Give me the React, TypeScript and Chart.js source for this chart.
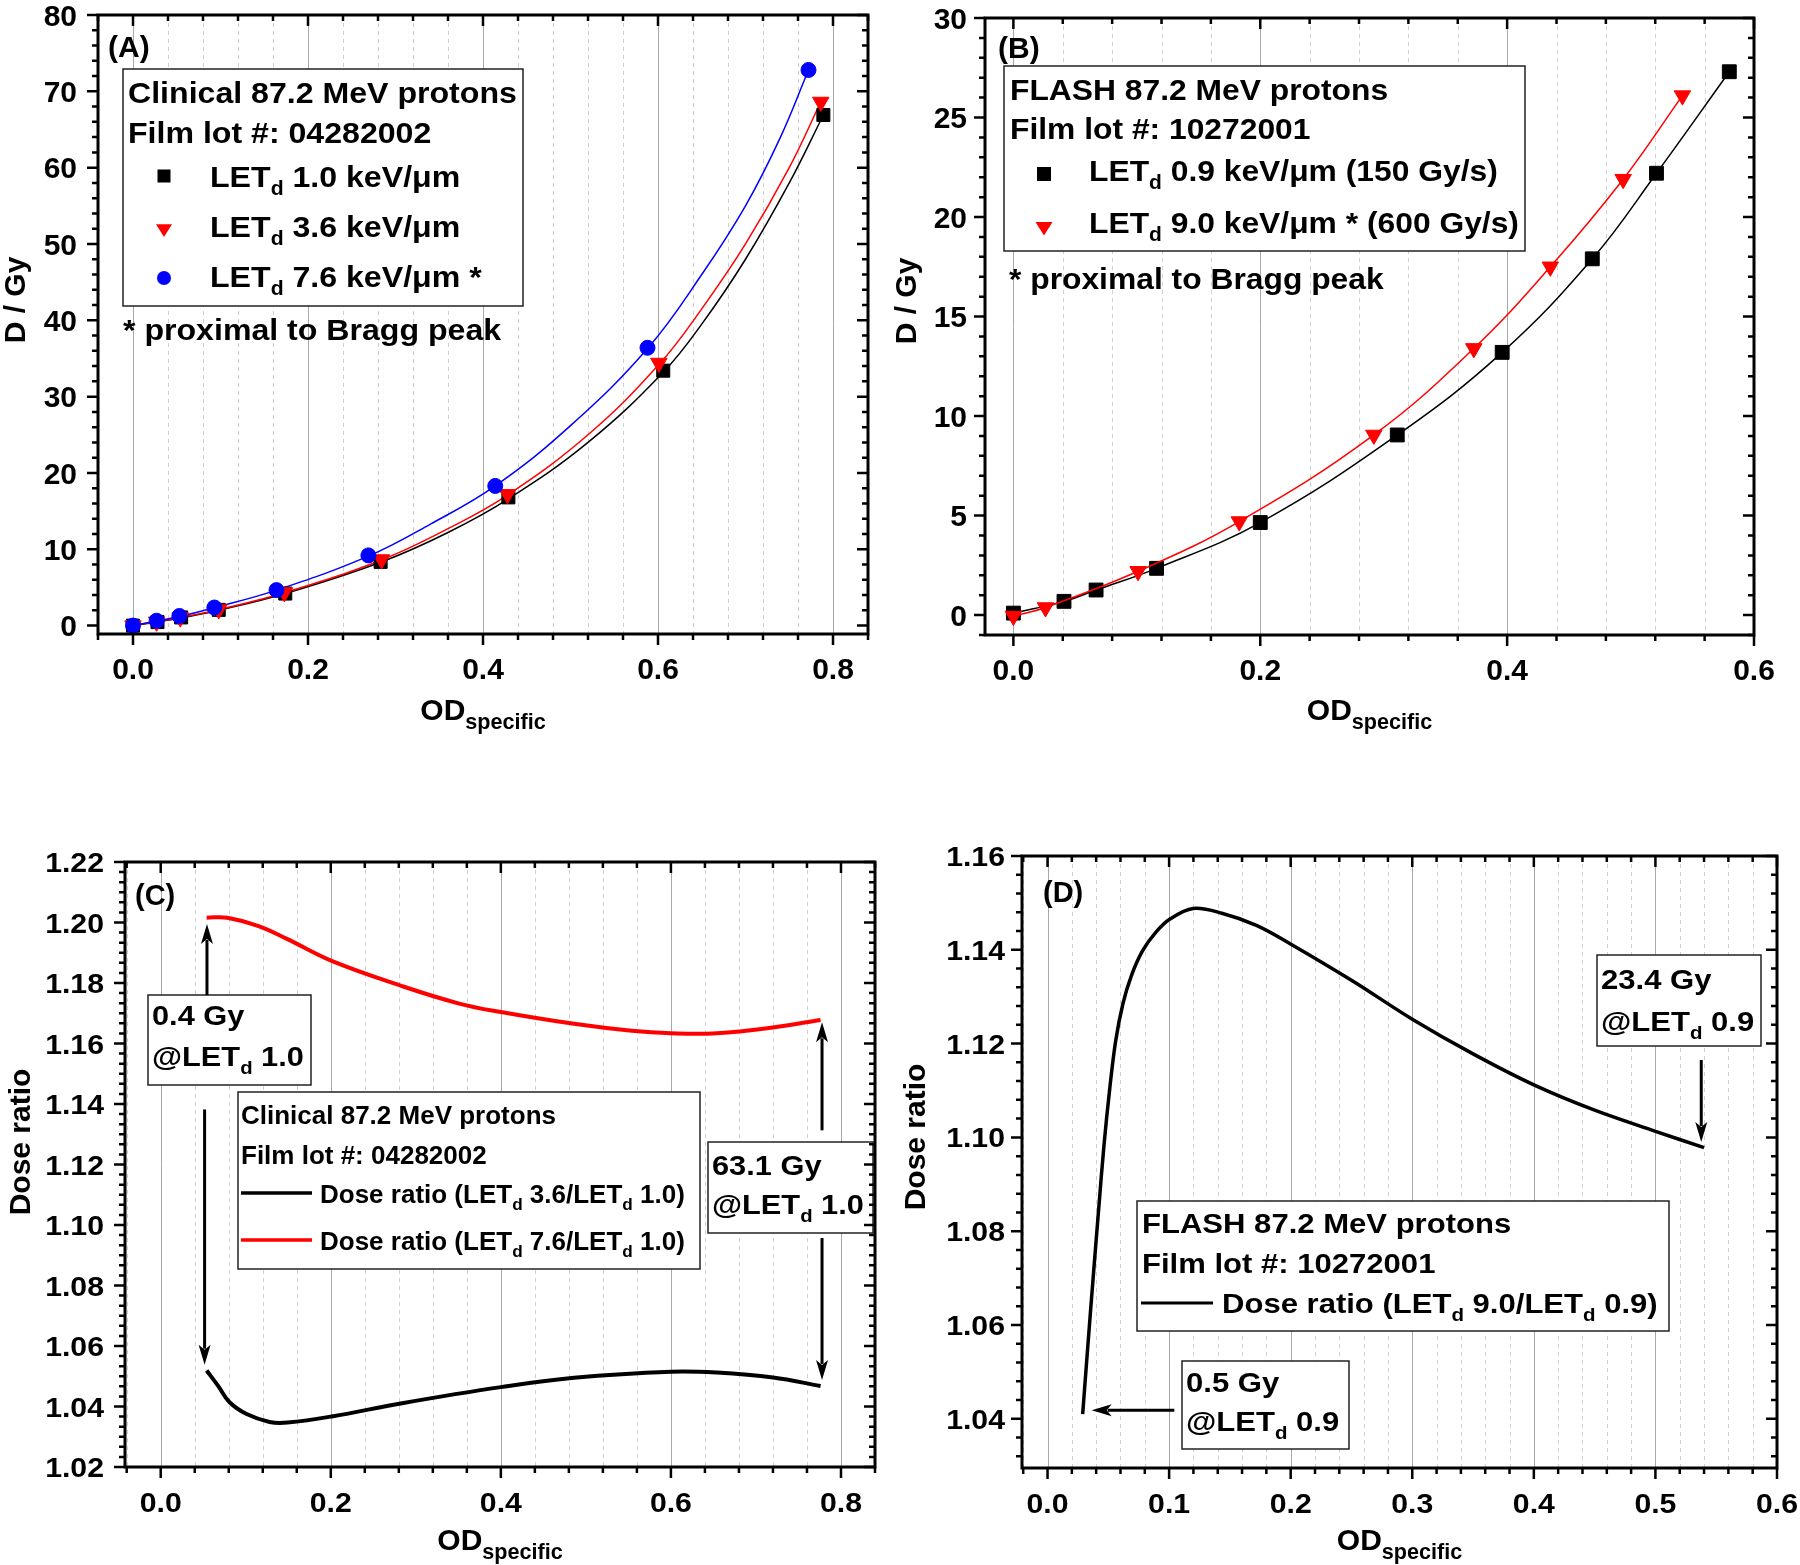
import React, { useEffect, useRef } from "react";
import { Chart, registerables } from "chart.js";
Chart.register(...registerables);

const W = 1800;
const H = 1565;
const FF = '"Liberation Sans", Arial, Helvetica, sans-serif';

// ---------------- DATA ----------------
// Panel A – Clinical 87.2 MeV protons (measured points)
const aX10 = [0, 0.028, 0.055, 0.098, 0.174, 0.283, 0.429, 0.606, 0.789];
const aY10 = [0, 0.46, 1.07, 2.06, 4.2, 8.35, 16.8, 33.4, 66.9];
const aX36 = [0, 0.027, 0.054, 0.098, 0.173, 0.284, 0.428, 0.601, 0.786];
const aY36 = [0, 0.5, 1.05, 2.1, 4.34, 8.65, 17.2, 34.4, 68.6];
const aX76 = [0, 0.027, 0.053, 0.093, 0.164, 0.269, 0.414, 0.588, 0.772];
const aY76 = [0, 0.64, 1.26, 2.37, 4.65, 9.2, 18.3, 36.4, 72.8];
// Panel A – fit curves
const aFitX10 = [0, 0.055, 0.098, 0.174, 0.283, 0.36, 0.429, 0.52, 0.606, 0.65, 0.7, 0.75, 0.789];
const aFitY10 = [0, 1.0, 2.0, 4.2, 8.3, 12.2, 16.6, 24.0, 33.2, 39.5, 48.0, 58.0, 66.9];
const aFitX36 = [0, 0.054, 0.098, 0.173, 0.284, 0.36, 0.428, 0.52, 0.601, 0.65, 0.7, 0.75, 0.786];
const aFitY36 = [0, 1.05, 2.1, 4.3, 8.6, 12.7, 17.1, 25.0, 34.2, 41.5, 50.0, 60.0, 68.6];
const aFitX76 = [0, 0.053, 0.093, 0.164, 0.269, 0.34, 0.414, 0.5, 0.588, 0.65, 0.7, 0.74, 0.772];
const aFitY76 = [0, 1.2, 2.35, 4.65, 9.1, 13.3, 18.3, 26.2, 36.3, 46.0, 55.0, 64.0, 72.8];
const aXTicks = [0, 0.2, 0.4, 0.6, 0.8];
const aYTicks = [0, 10, 20, 30, 40, 50, 60, 70, 80];

// Panel B – FLASH 87.2 MeV protons
const bX09 = [0, 0.041, 0.067, 0.116, 0.2, 0.311, 0.396, 0.469, 0.521, 0.58];
const bY09 = [0.1, 0.69, 1.26, 2.35, 4.65, 9.05, 13.2, 17.9, 22.2, 27.3];
const bX90 = [0, 0.026, 0.101, 0.183, 0.292, 0.373, 0.435, 0.494, 0.542];
const bY90 = [-0.05, 0.38, 2.2, 4.7, 9.05, 13.4, 17.5, 21.9, 26.1];
const bXTicks = [0, 0.2, 0.4, 0.6];
const bYTicks = [0, 5, 10, 15, 20, 25, 30];

// Panel C – dose ratios, clinical
const cXBlack = [0.054, 0.0675, 0.081, 0.101, 0.128, 0.149, 0.201, 0.284, 0.4, 0.486, 0.6, 0.654, 0.72, 0.776];
const cYBlack = [1.0519, 1.0468, 1.0414, 1.0375, 1.0349, 1.0347, 1.0367, 1.0411, 1.0464, 1.0495, 1.0515, 1.0512, 1.0496, 1.0468];
const cXRed = [0.054, 0.078, 0.115, 0.149, 0.201, 0.2835, 0.351, 0.4, 0.486, 0.554, 0.6, 0.654, 0.72, 0.776];
const cYRed = [1.2016, 1.2016, 1.1988, 1.1945, 1.1873, 1.179, 1.1732, 1.1704, 1.1665, 1.1642, 1.1634, 1.1634, 1.1653, 1.1678];
const cXTicks = [0, 0.2, 0.4, 0.6, 0.8];
const cYTicks = [1.02, 1.04, 1.06, 1.08, 1.1, 1.12, 1.14, 1.16, 1.18, 1.2, 1.22];

// Panel D – dose ratio, FLASH
const dX = [0.0289, 0.033, 0.0375, 0.042, 0.0465, 0.051, 0.056, 0.062, 0.069, 0.078, 0.089, 0.101, 0.1198, 0.1434, 0.1718, 0.2002, 0.25, 0.3, 0.35, 0.4, 0.45, 0.5, 0.54];
const dY = [1.041, 1.055, 1.07, 1.0845, 1.0985, 1.11, 1.1205, 1.1285, 1.1345, 1.1397, 1.1437, 1.1466, 1.1488, 1.1478, 1.1452, 1.1412, 1.1335, 1.1252, 1.1178, 1.1112, 1.1058, 1.1013, 1.0978];
const dXTicks = [0, 0.1, 0.2, 0.3, 0.4, 0.5, 0.6];
const dYTicks = [1.04, 1.06, 1.08, 1.1, 1.12, 1.14, 1.16];

const zip = (xs: number[], ys: number[]) => xs.map((x, i) => ({ x, y: ys[i] }));

// ---------------- TEXT HELPERS ----------------
type Run = { t: string; sub: boolean };
function runsOf(s: string): Run[] {
  const out: Run[] = [];
  const re = /_\{([^}]*)\}/g;
  let last = 0;
  let m: RegExpExecArray | null;
  while ((m = re.exec(s)) !== null) {
    if (m.index > last) out.push({ t: s.slice(last, m.index), sub: false });
    out.push({ t: m[1], sub: true });
    last = re.lastIndex;
  }
  if (last < s.length) out.push({ t: s.slice(last), sub: false });
  return out;
}
function drawRich(
  ctx: CanvasRenderingContext2D,
  s: string,
  x: number,
  y: number,
  size: number,
  sx = 1,
  align: "left" | "center" | "right" = "left",
  subRatio = 0.66,
  subOff = 0.28
) {
  const runs = runsOf(s);
  const widths = runs.map((r) => {
    ctx.font = `bold ${r.sub ? size * subRatio : size}px ${FF}`;
    return ctx.measureText(r.t).width;
  });
  const total = widths.reduce((a, b) => a + b, 0) * sx;
  let x0 = x;
  if (align === "center") x0 = x - total / 2;
  if (align === "right") x0 = x - total;
  ctx.save();
  ctx.textBaseline = "alphabetic";
  ctx.textAlign = "left";
  ctx.fillStyle = "#000";
  ctx.translate(x0, y);
  ctx.scale(sx, 1);
  let off = 0;
  runs.forEach((r, i) => {
    ctx.font = `bold ${r.sub ? size * subRatio : size}px ${FF}`;
    ctx.fillText(r.t, off, r.sub ? size * subOff : 0);
    off += widths[i];
  });
  ctx.restore();
}

// ---------------- PANEL CONFIG ----------------
type Txt = { s: string; x: number; y: number; size: number; sx?: number };
type Box = { x: number; y: number; w: number; h: number };
type Mark = { kind: "rect" | "tri" | "circle"; x: number; y: number; color: string; r: number };
type LegLine = { x1: number; x2: number; y: number; color: string; w: number };
type Arrow = { x1: number; y1: number; x2: number; y2: number };
type Panel = {
  area: { l: number; t: number; r: number; b: number };
  xMin: number; xMax: number; yMin: number; yMax: number;
  xTicks: number[]; yTicks: number[]; xMinorN: number; yMinorN: number; xDec: number; yDec: number;
  tickSize: number; tickSx: number; yGap: number;
  xTitleY: number; yTitle: { s: string; x: number; y: number };
  texts: Txt[]; boxes: Box[]; marks: Mark[]; legLines: LegLine[]; arrows: Arrow[];
  datasets: any[];
};

const lineDs = (xs: number[], ys: number[], color: string, w: number, order: number, tension: number) => ({
  data: zip(xs, ys),
  showLine: true,
  borderColor: color,
  borderWidth: w,
  pointRadius: 0,
  tension,
  fill: false,
  order,
});
const markDs = (xs: number[], ys: number[], color: string, style: string, r: number, order: number, rot = 0, line = true) => ({
  data: zip(xs, ys),
  showLine: line,
  borderColor: color,
  borderWidth: 1.5,
  pointStyle: style,
  pointRadius: r,
  pointRotation: rot,
  pointBackgroundColor: color,
  pointBorderColor: color,
  pointBorderWidth: 1,
  tension: 0.4,
  fill: false,
  order,
});

const panels: Panel[] = [
  {
    area: { l: 98, t: 15, r: 868, b: 634 },
    xMin: -0.04, xMax: 0.84, yMin: -1.1, yMax: 80,
    xTicks: aXTicks, yTicks: aYTicks, xMinorN: 5, yMinorN: 5, xDec: 1, yDec: 0,
    tickSize: 30, tickSx: 1, yGap: 21,
    xTitleY: 720, yTitle: { s: "D / Gy", x: 14, y: 300 },
    boxes: [{ x: 123, y: 69, w: 400, h: 237 }],
    texts: [
      { s: "(A)", x: 108, y: 57, size: 30 },
      { s: "Clinical 87.2 MeV protons", x: 128, y: 103, size: 30, sx: 1.07 },
      { s: "Film lot #: 04282002", x: 128, y: 143, size: 30, sx: 1.07 },
      { s: "LET_{d} 1.0 keV/μm", x: 210, y: 187, size: 30, sx: 1.07 },
      { s: "LET_{d} 3.6 keV/μm", x: 210, y: 237, size: 30, sx: 1.07 },
      { s: "LET_{d} 7.6 keV/μm *", x: 210, y: 287, size: 30, sx: 1.07 },
      { s: "* proximal to Bragg peak", x: 123, y: 340, size: 30, sx: 1.07 },
    ],
    marks: [
      { kind: "rect", x: 164, y: 176, color: "#000000", r: 6.5 },
      { kind: "tri", x: 164, y: 229, color: "#ff0000", r: 8 },
      { kind: "circle", x: 164, y: 278, color: "#0000ff", r: 7 },
    ],
    legLines: [],
    arrows: [],
    datasets: [
      markDs(aX76, aY76, "#0000ff", "circle", 7.5, 1, 0, false),
      markDs(aX36, aY36, "#ff0000", "triangle", 9.5, 2, 180, false),
      markDs(aX10, aY10, "#000000", "rect", 9.2, 3, 0, false),
      lineDs(aFitX76, aFitY76, "#0000ff", 1.5, 4, 0.4),
      lineDs(aFitX36, aFitY36, "#ff0000", 1.5, 5, 0.4),
      lineDs(aFitX10, aFitY10, "#000000", 1.5, 6, 0.4),
    ],
  },
  {
    area: { l: 985, t: 18, r: 1754, b: 635 },
    xMin: -0.023, xMax: 0.6, yMin: -1.0, yMax: 30,
    xTicks: bXTicks, yTicks: bYTicks, xMinorN: 5, yMinorN: 5, xDec: 1, yDec: 0,
    tickSize: 30, tickSx: 1, yGap: 18,
    xTitleY: 720, yTitle: { s: "D / Gy", x: 905, y: 301 },
    boxes: [{ x: 1004, y: 66, w: 521, h: 185 }],
    texts: [
      { s: "(B)", x: 998, y: 58, size: 30 },
      { s: "FLASH 87.2 MeV protons", x: 1010, y: 100, size: 30, sx: 1.06 },
      { s: "Film lot #: 10272001", x: 1010, y: 139, size: 30, sx: 1.06 },
      { s: "LET_{d} 0.9 keV/μm (150 Gy/s)", x: 1089, y: 181, size: 30, sx: 1.06 },
      { s: "LET_{d} 9.0 keV/μm * (600 Gy/s)", x: 1089, y: 233, size: 30, sx: 1.06 },
      { s: "* proximal to Bragg peak", x: 1009, y: 289, size: 30, sx: 1.06 },
    ],
    marks: [
      { kind: "rect", x: 1044, y: 174, color: "#000000", r: 7 },
      { kind: "tri", x: 1044, y: 227, color: "#ff0000", r: 8.5 },
    ],
    legLines: [],
    arrows: [],
    datasets: [
      markDs(bX90, bY90, "#ff0000", "triangle", 9.5, 1, 180),
      markDs(bX09, bY09, "#000000", "rect", 9.8, 2),
    ],
  },
  {
    area: { l: 125, t: 862, r: 875, b: 1467 },
    xMin: -0.042, xMax: 0.84, yMin: 1.02, yMax: 1.22,
    xTicks: cXTicks, yTicks: cYTicks, xMinorN: 5, yMinorN: 6, xDec: 1, yDec: 2,
    tickSize: 28, tickSx: 1.08, yGap: 21,
    xTitleY: 1550, yTitle: { s: "Dose ratio", x: 19, y: 1142 },
    boxes: [
      { x: 148, y: 995, w: 163, h: 90 },
      { x: 708, y: 1142, w: 165, h: 91 },
      { x: 238, y: 1092, w: 462, h: 177 },
    ],
    texts: [
      { s: "(C)", x: 135, y: 905, size: 29 },
      { s: "0.4 Gy", x: 152, y: 1025, size: 27, sx: 1.14 },
      { s: "@LET_{d} 1.0", x: 152, y: 1066, size: 27, sx: 1.14 },
      { s: "63.1 Gy", x: 712, y: 1175, size: 27, sx: 1.14 },
      { s: "@LET_{d} 1.0", x: 712, y: 1214, size: 27, sx: 1.14 },
      { s: "Clinical 87.2 MeV protons", x: 241, y: 1124, size: 26 },
      { s: "Film lot #: 04282002", x: 241, y: 1164, size: 26 },
      { s: "Dose ratio (LET_{d} 3.6/LET_{d} 1.0)", x: 320, y: 1203, size: 26 },
      { s: "Dose ratio (LET_{d} 7.6/LET_{d} 1.0)", x: 320, y: 1250, size: 26 },
    ],
    marks: [],
    legLines: [
      { x1: 241, x2: 312, y: 1193, color: "#000000", w: 3.5 },
      { x1: 241, x2: 312, y: 1240, color: "#ff0000", w: 3.5 },
    ],
    arrows: [
      { x1: 0.0544, y1: 1.176, x2: 0.0544, y2: 1.1995 },
      { x1: 0.0516, y1: 1.1382, x2: 0.0516, y2: 1.0538 },
      { x1: 0.7777, y1: 1.1313, x2: 0.7777, y2: 1.167 },
      { x1: 0.7777, y1: 1.0957, x2: 0.7777, y2: 1.0488 },
    ],
    datasets: [
      lineDs(cXRed, cYRed, "#ff0000", 4, 1, 0.4),
      lineDs(cXBlack, cYBlack, "#000000", 4, 2, 0.4),
    ],
  },
  {
    area: { l: 1022, t: 856, r: 1777, b: 1468 },
    xMin: -0.021, xMax: 0.6, yMin: 1.0295, yMax: 1.16,
    xTicks: dXTicks, yTicks: dYTicks, xMinorN: 5, yMinorN: 5, xDec: 1, yDec: 2,
    tickSize: 28, tickSx: 1.08, yGap: 17,
    xTitleY: 1550, yTitle: { s: "Dose ratio", x: 914, y: 1137 },
    boxes: [
      { x: 1137, y: 1201, w: 532, h: 130 },
      { x: 1182, y: 1361, w: 167, h: 88 },
      { x: 1597, y: 955, w: 164, h: 91 },
    ],
    texts: [
      { s: "(D)", x: 1043, y: 902, size: 29 },
      { s: "FLASH 87.2 MeV protons", x: 1142, y: 1233, size: 27, sx: 1.15 },
      { s: "Film lot #: 10272001", x: 1142, y: 1273, size: 27, sx: 1.15 },
      { s: "Dose ratio (LET_{d} 9.0/LET_{d} 0.9)", x: 1222, y: 1313, size: 27, sx: 1.15 },
      { s: "0.5 Gy", x: 1186, y: 1392, size: 27, sx: 1.15 },
      { s: "@LET_{d} 0.9", x: 1186, y: 1431, size: 27, sx: 1.15 },
      { s: "23.4 Gy", x: 1601, y: 989, size: 27, sx: 1.15 },
      { s: "@LET_{d} 0.9", x: 1601, y: 1031, size: 27, sx: 1.15 },
    ],
    marks: [],
    legLines: [{ x1: 1141, x2: 1213, y: 1303, color: "#000000", w: 3 }],
    arrows: [
      { x1: 0.1043, y1: 1.0418, x2: 0.0363, y2: 1.0418 },
      { x1: 0.5377, y1: 1.1165, x2: 0.5377, y2: 1.099 },
    ],
    datasets: [lineDs(dX, dY, "#000000", 3.5, 1, 0.35)],
  },
];

// ---------------- DRAW HELPERS ----------------
function axisValues(min: number, max: number, ticks: number[], n: number) {
  const major = ticks[1] - ticks[0];
  const step = major / n;
  const k0 = Math.ceil(min / step - 1e-6);
  const k1 = Math.floor(max / step + 1e-6);
  const out: { v: number; major: boolean }[] = [];
  for (let k = k0; k <= k1; k++) out.push({ v: k * step, major: ((k % n) + n) % n === 0 });
  return out;
}

function drawArrow(ctx: CanvasRenderingContext2D, x1: number, y1: number, x2: number, y2: number) {
  const ang = Math.atan2(y2 - y1, x2 - x1);
  const hl = 20;
  const hw = 6;
  const bx = x2 - hl * Math.cos(ang);
  const by = y2 - hl * Math.sin(ang);
  ctx.save();
  ctx.strokeStyle = "#000";
  ctx.fillStyle = "#000";
  ctx.lineWidth = 3;
  ctx.beginPath();
  ctx.moveTo(x1, y1);
  ctx.lineTo(bx + 4 * Math.cos(ang), by + 4 * Math.sin(ang));
  ctx.stroke();
  ctx.beginPath();
  ctx.moveTo(x2, y2);
  ctx.lineTo(bx - hw * Math.sin(ang), by + hw * Math.cos(ang));
  ctx.lineTo(bx + 5 * Math.cos(ang), by + 5 * Math.sin(ang));
  ctx.lineTo(bx + hw * Math.sin(ang), by - hw * Math.cos(ang));
  ctx.closePath();
  ctx.fill();
  ctx.restore();
}

function drawMark(ctx: CanvasRenderingContext2D, m: Mark) {
  ctx.save();
  ctx.fillStyle = m.color;
  ctx.beginPath();
  if (m.kind === "rect") ctx.rect(m.x - m.r, m.y - m.r, 2 * m.r, 2 * m.r);
  else if (m.kind === "circle") ctx.arc(m.x, m.y, m.r, 0, Math.PI * 2);
  else {
    ctx.moveTo(m.x - m.r, m.y - m.r * 0.6);
    ctx.lineTo(m.x + m.r, m.y - m.r * 0.6);
    ctx.lineTo(m.x, m.y + m.r * 1.0);
    ctx.closePath();
  }
  ctx.fill();
  ctx.restore();
}

function makePlugin(p: Panel) {
  return {
    id: "originStyle",
    beforeDatasetsDraw(chart: any) {
      const { ctx, chartArea: ca } = chart;
      const xs = chart.scales.x;
      ctx.save();
      ctx.beginPath();
      ctx.rect(ca.left, ca.top, ca.right - ca.left, ca.bottom - ca.top);
      ctx.clip();
      for (const t of axisValues(p.xMin, p.xMax, p.xTicks, p.xMinorN)) {
        const px = Math.round(xs.getPixelForValue(t.v)) + 0.5;
        ctx.beginPath();
        ctx.lineWidth = 1;
        if (t.major) {
          ctx.setLineDash([]);
          ctx.strokeStyle = "#a8a8a8";
        } else {
          ctx.setLineDash([4, 4]);
          ctx.strokeStyle = "#cfcfcf";
        }
        ctx.moveTo(px, ca.top);
        ctx.lineTo(px, ca.bottom);
        ctx.stroke();
      }
      ctx.restore();
    },
    afterDatasetsDraw(chart: any) {
      const { ctx, chartArea: ca } = chart;
      const xs = chart.scales.x;
      const ys = chart.scales.y;
      ctx.save();
      for (const b of p.boxes) {
        ctx.fillStyle = "#fff";
        ctx.fillRect(b.x, b.y, b.w, b.h);
        ctx.strokeStyle = "#222";
        ctx.lineWidth = 1.5;
        ctx.strokeRect(b.x, b.y, b.w, b.h);
      }
      ctx.strokeStyle = "#000";
      ctx.lineWidth = 2.5;
      ctx.setLineDash([]);
      for (const t of axisValues(p.xMin, p.xMax, p.xTicks, p.xMinorN)) {
        const px = xs.getPixelForValue(t.v);
        const len = t.major ? 11 : 6;
        ctx.beginPath();
        ctx.moveTo(px, ca.bottom);
        ctx.lineTo(px, ca.bottom + len);
        ctx.moveTo(px, ca.top);
        ctx.lineTo(px, ca.top + len);
        ctx.stroke();
      }
      for (const t of axisValues(p.yMin, p.yMax, p.yTicks, p.yMinorN)) {
        const py = ys.getPixelForValue(t.v);
        const len = t.major ? 11 : 6;
        ctx.beginPath();
        ctx.moveTo(ca.left, py);
        ctx.lineTo(ca.left - len, py);
        ctx.moveTo(ca.right, py);
        ctx.lineTo(ca.right - len, py);
        ctx.stroke();
      }
      ctx.lineWidth = 3;
      ctx.strokeRect(ca.left, ca.top, ca.right - ca.left, ca.bottom - ca.top);
      for (const v of p.xTicks) {
        if (v < p.xMin - 1e-9 || v > p.xMax + 1e-9) continue;
        drawRich(ctx, v.toFixed(p.xDec), xs.getPixelForValue(v), ca.bottom + 45, p.tickSize, p.tickSx, "center");
      }
      for (const v of p.yTicks) {
        if (v < p.yMin - 1e-9 || v > p.yMax + 1e-9) continue;
        drawRich(ctx, v.toFixed(p.yDec), ca.left - p.yGap, ys.getPixelForValue(v) + 0.36 * p.tickSize, p.tickSize, p.tickSx, "right");
      }
      drawRich(ctx, "OD_{specific}", (ca.left + ca.right) / 2, p.xTitleY, 30, 1, "center", 0.72, 0.3);
      ctx.save();
      ctx.translate(p.yTitle.x, p.yTitle.y);
      ctx.rotate(-Math.PI / 2);
      drawRich(ctx, p.yTitle.s, 0, 0.36 * 30, 30, 1, "center");
      ctx.restore();
      for (const t of p.texts) drawRich(ctx, t.s, t.x, t.y, t.size, t.sx ?? 1);
      for (const m of p.marks) drawMark(ctx, m);
      for (const l of p.legLines) {
        ctx.beginPath();
        ctx.strokeStyle = l.color;
        ctx.lineWidth = l.w;
        ctx.moveTo(l.x1, l.y);
        ctx.lineTo(l.x2, l.y);
        ctx.stroke();
      }
      for (const a of p.arrows) {
        drawArrow(ctx, xs.getPixelForValue(a.x1), ys.getPixelForValue(a.y1), xs.getPixelForValue(a.x2), ys.getPixelForValue(a.y2));
      }
      ctx.restore();
    },
  };
}

function PanelChart({ p }: { p: Panel }) {
  const ref = useRef<HTMLCanvasElement>(null);
  useEffect(() => {
    const chart = new Chart(ref.current as HTMLCanvasElement, {
      type: "scatter",
      data: { datasets: p.datasets as any },
      options: {
        animation: false,
        responsive: false,
        devicePixelRatio: 1,
        events: [],
        layout: { padding: { left: p.area.l, top: p.area.t, right: W - p.area.r, bottom: H - p.area.b } },
        plugins: { legend: { display: false }, tooltip: { enabled: false } },
        scales: {
          x: { type: "linear", display: false, min: p.xMin, max: p.xMax },
          y: { type: "linear", display: false, min: p.yMin, max: p.yMax },
        },
      } as any,
      plugins: [makePlugin(p) as any],
    });
    return () => chart.destroy();
  }, []);
  return (
    <canvas
      ref={ref}
      width={W}
      height={H}
      style={{ position: "absolute", left: 0, top: 0, width: W, height: H }}
    />
  );
}

export default function App() {
  return (
    <div style={{ position: "absolute", left: 0, top: 0, width: W, height: H, background: "#fff", overflow: "hidden" }}>
      {panels.map((p, i) => (
        <PanelChart key={i} p={p} />
      ))}
    </div>
  );
}
